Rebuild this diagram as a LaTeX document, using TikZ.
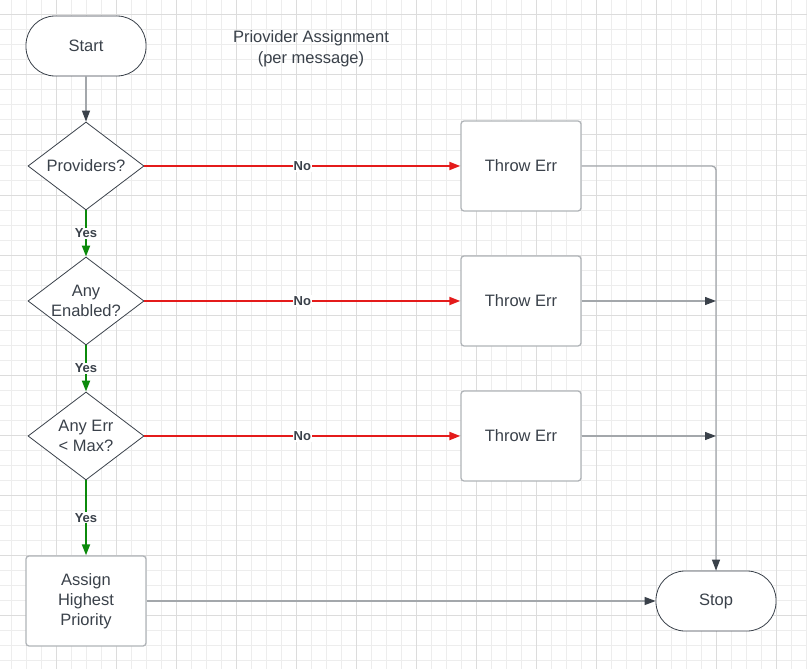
\documentclass[tikz,border=0pt]{standalone}
\usepackage{fontspec}
\setmainfont{Liberation Sans}
\usetikzlibrary{shapes.geometric,arrows.meta}

\definecolor{ink}{HTML}{3A414A}
\definecolor{wire}{HTML}{A3A7AB}
\definecolor{boxline}{HTML}{B0B4B8}
\definecolor{gridminor}{HTML}{EDEDED}
\definecolor{gridmajor}{HTML}{DCDCDC}
\definecolor{yesgreen}{HTML}{0B8A0B}
\definecolor{nored}{HTML}{E41B1B}

\begin{document}
\begin{tikzpicture}[x=1pt, y=-1pt,
    every node/.style={font=\fontsize{16.5}{20}\selectfont, text=ink},
    terminal/.style={draw=ink, line width=0.8pt, fill=white, rounded corners=29pt, minimum width=120pt, minimum height=60pt},
    decision/.style={draw=ink, line width=0.8pt, fill=white, diamond, inner sep=-10pt, minimum width=116pt, minimum height=88pt, align=center},
    process/.style={draw=boxline, line width=1.3pt, fill=white, rounded corners=3pt, minimum width=120pt, minimum height=90pt, align=center},
    flow/.style={draw=wire, line width=1.3pt, -{Triangle[length=11pt, width=8pt, color=ink]}},
    yes/.style={draw=yesgreen, line width=2pt, -{Triangle[length=11pt, width=8pt]}},
    no/.style={draw=nored, line width=2pt, -{Triangle[length=11pt, width=8pt]}},
    tag/.style={font=\fontsize{13}{15}\selectfont\bfseries, fill=white, inner sep=1pt}]

    \useasboundingbox (0,0) rectangle (807,669);
    \fill[white] (0,0) rectangle (807,669);

    % grid
    \foreach \x in {11.7,26.7,...,807} \draw[gridminor, line width=1pt] (\x,0) -- (\x,669);
    \foreach \y in {0,15,...,669} \draw[gridminor, line width=1pt] (0,\y) -- (807,\y);
    \foreach \x in {56.7,116.7,...,807} \draw[gridmajor, line width=1pt] (\x,0) -- (\x,669);
    \foreach \y in {15,75,...,669} \draw[gridmajor, line width=1pt] (0,\y) -- (807,\y);

    \node[align=center, font=\fontsize{16.5}{21}\selectfont] (title) at (311,49) {Priovider Assignment\\(per message)};

    \node[terminal] (start) at (86,46) {Start};
    \node[decision] (prov) at (86,166) {Providers?};
    \node[decision] (enab) at (86,301) {Any\\Enabled?};
    \node[decision] (errmax) at (86,436) {Any Err\\< Max?};
    \node[process] (assign) at (86,601) {Assign\\Highest\\Priority};

    \node[process] (throw1) at (521,166) {Throw Err};
    \node[process] (throw2) at (521,301) {Throw Err};
    \node[process] (throw3) at (521,436) {Throw Err};
    \node[terminal] (stop) at (716,601) {Stop};

    \draw[flow] (start) -- (prov);
    \draw[yes] (prov) -- node[tag] {Yes} (enab);
    \draw[yes] (enab) -- node[tag] {Yes} (errmax);
    \draw[yes] (errmax) -- node[tag] {Yes} (assign);

    \draw[no] (prov.east) -- node[tag] {No} (throw1.west |- prov.east);
    \draw[no] (enab.east) -- node[tag] {No} (throw2.west |- enab.east);
    \draw[no] (errmax.east) -- node[tag] {No} (throw3.west |- errmax.east);

    \draw[flow, rounded corners=4pt] (throw1.east) -| (stop.north);
    \draw[flow] (throw2.east) -- (throw2.east -| stop.north);
    \draw[flow] (throw3.east) -- (throw3.east -| stop.north);
    \draw[flow] (assign.east) -- (stop.west);

\end{tikzpicture}
\end{document}
